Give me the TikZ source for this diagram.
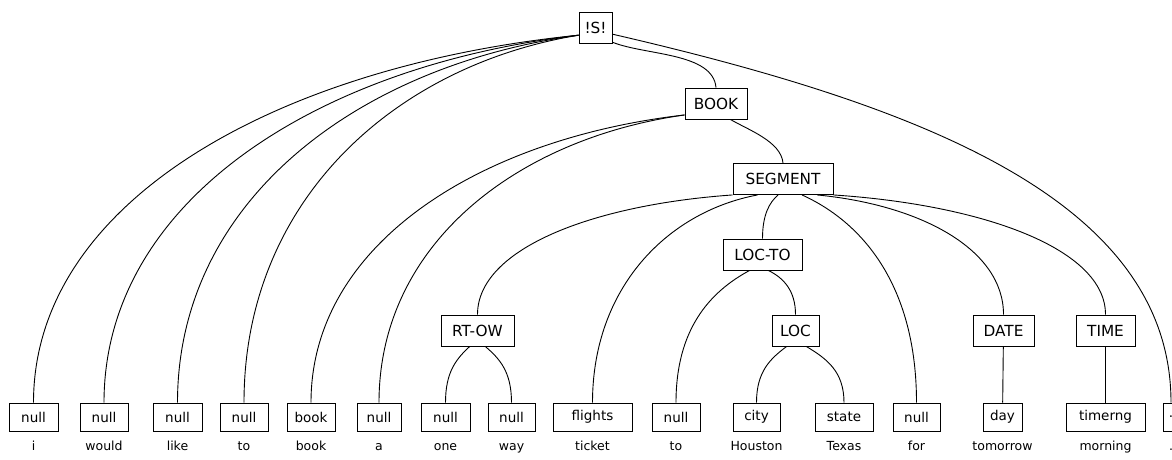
\documentclass[tikz,border=0pt]{standalone}
\usepackage{fontspec}
\setmainfont{DejaVu Sans}
\usetikzlibrary{calc,positioning}

\begin{document}
\begin{tikzpicture}[
      x=1pt, y=1pt,
      line width=0.9pt,
      cat/.style={draw, font=\fontsize{15.3}{17}\selectfont, minimum height=31pt, inner sep=0pt},
      tag/.style={draw, font=\fontsize{13.5}{15}\selectfont, minimum height=28pt, inner sep=0pt},
      word/.style={font=\fontsize{12.5}{14}\selectfont, text height=9.5pt, text depth=3pt, inner sep=0pt},
      arc/.style={to path={let \p1=(\tikztostart), \p2=(\tikztotarget) in
        .. controls ($(\p1)!0.55!(\x2,{\y1+#1*(\y2-\y1)})$) and ($(\p2)!0.55!(\x2,\y1)$) .. (\p2)}},
      arc/.default=0.15
    ]
    \useasboundingbox (0,0) rectangle (1172,-460);
    \clip (0,0) rectangle (1172,-460);

    % Category nodes
    \node[cat, minimum width=33pt] (is) at (595.5,-28) {!S!};
    \node[cat, minimum width=62pt] (book) at (716,-103.5) {BOOK};
    \node[cat, minimum width=100pt] (seg) at (783,-179) {SEGMENT};
    \node[cat, minimum width=79pt] (locto) at (762.5,-254.5) {LOC-TO};
    \node[cat, minimum width=73pt] (rtow) at (477.5,-330.5) {RT-OW};
    \node[cat, minimum width=47pt] (loc) at (795.5,-330.5) {LOC};
    \node[cat, minimum width=61pt] (date) at (1003.5,-330.5) {DATE};
    \node[cat, minimum width=59pt] (time) at (1105.5,-330.5) {TIME};

    % Leaf tags
    \node[tag, minimum width=49pt] (n1) at (33.5,-417) {null};
    \node[tag, minimum width=48pt] (n2) at (104,-417) {null};
    \node[tag, minimum width=49pt] (n3) at (177.5,-417) {null};
    \node[tag, minimum width=48pt] (n4) at (244,-417) {null};
    \node[tag, minimum width=48pt] (n5) at (311,-417) {book};
    \node[tag, minimum width=44pt] (n6) at (379,-417) {null};
    \node[tag, minimum width=49pt] (n7) at (445.5,-417) {null};
    \node[tag, minimum width=47pt] (n8) at (511.5,-417) {null};
    \node[tag, minimum width=79pt] (n9) at (592.5,-417) {flights};
    \node[tag, minimum width=48pt] (n10) at (676,-417) {null};
    \node[tag, minimum width=47pt] (n11) at (756.5,-417) {city};
    \node[tag, minimum width=58pt] (n12) at (844,-417) {state};
    \node[tag, minimum width=47pt] (n13) at (916.5,-417) {null};
    \node[tag, minimum width=39pt] (n14) at (1002.5,-417) {day};
    \node[tag, minimum width=79pt] (n15) at (1105.5,-417) {timerng};
    \node[tag, minimum width=16pt] (n16) at (1171,-417) {.};

    % Words
    \node[word, below=9.5pt of n1] (w1) {i};
    \node[word, below=9.5pt of n2] (w2) {would};
    \node[word, below=9.5pt of n3] (w3) {like};
    \node[word, below=9.5pt of n4] (w4) {to};
    \node[word, below=9.5pt of n5] (w5) {book};
    \node[word, below=9.5pt of n6] (w6) {a};
    \node[word, below=9.5pt of n7] (w7) {one};
    \node[word, below=9.5pt of n8] (w8) {way};
    \node[word, below=9.5pt of n9] (w9) {ticket};
    \node[word, below=9.5pt of n10] (w10) {to};
    \node[word, below=9.5pt of n11] (w11) {Houston};
    \node[word, below=9.5pt of n12] (w12) {Texas};
    \node[word, below=9.5pt of n13] (w13) {for};
    \node[word, below=9.5pt of n14] (w14) {tomorrow};
    \node[word, below=9.5pt of n15] (w15) {morning};
    \node[word, below=9.5pt of n16] (w16) {.};

    % Edges from !S!
    \draw (is.203) to[arc] (n1.north);
    \draw (is.203) to[arc] (n2.north);
    \draw (is.203) to[arc] (n3.north);
    \draw (is.203) to[arc] (n4.north);
    \draw (is.320) to[out=-22, in=95, looseness=0.8] (book.north);
    \draw (is.340) to[arc=0.35] (n16.north);

    % Edges from BOOK
    \draw (book.200) to[arc] (n5.north);
    \draw (book.200) to[arc] (n6.north);
    \draw (book.312) to[out=-30, in=95, looseness=0.8] (seg.north);

    % Edges from SEGMENT
    \draw (seg.south west) to[arc] (rtow.north);
    \draw (seg.212) to[arc] (n9.north);
    \draw (seg.253) to[arc=0.3] (locto.north);
    \draw (seg.320) to[arc=0.25] (n13.north);
    \draw (seg.335) to[arc] (date.north);
    \draw (seg.south east) to[arc] (time.north);

    % Lower levels
    \draw (locto.231) to[arc=0.3] (n10.north);
    \draw (locto.290) to[arc=0.3] (loc.north);
    \draw (rtow.244) to[arc=0.4] (n7.north);
    \draw (rtow.296) to[arc=0.4] (n8.north);
    \draw (loc.241) to[arc=0.4] (n11.north);
    \draw (loc.304) to[arc=0.4] (n12.north);
    \draw (date) -- (n14);
    \draw (time) -- (n15);

\end{tikzpicture}
\end{document}
